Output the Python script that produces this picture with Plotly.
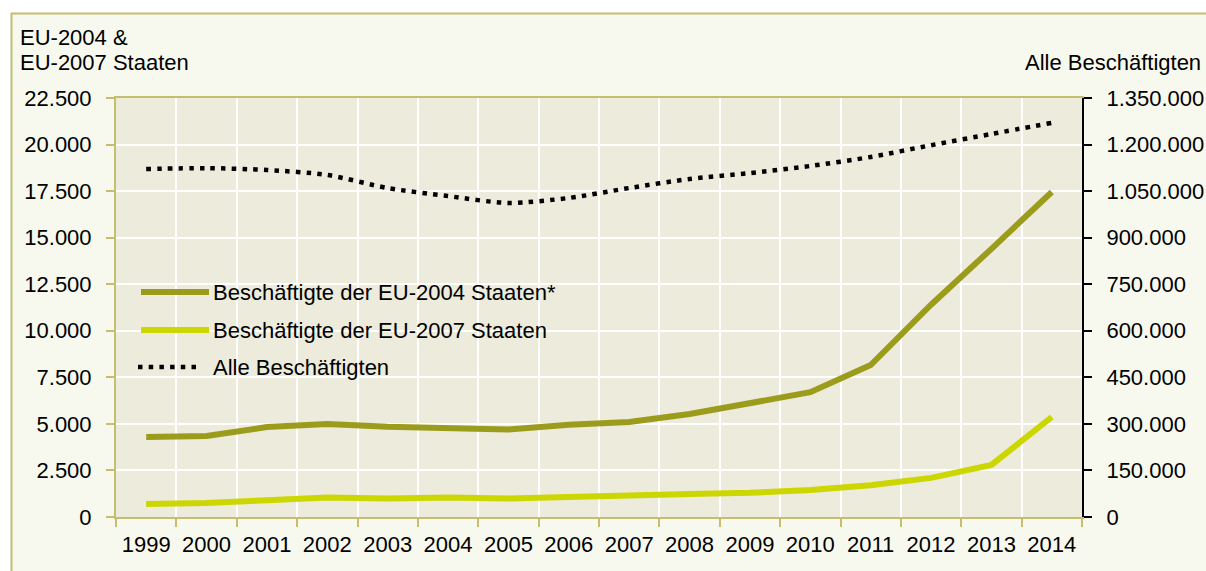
import plotly.graph_objects as go

years = ["1999", "2000", "2001", "2002", "2003", "2004", "2005", "2006",
         "2007", "2008", "2009", "2010", "2011", "2012", "2013", "2014"]
eu2004 = [4300, 4350, 4830, 5000, 4850, 4800, 4700, 4950,
          5100, 5530, 6100, 6700, 8160, 11400, 14400, 17450]
eu2007 = [700, 750, 900, 1050, 1000, 1050, 1000, 1100,
          1150, 1230, 1300, 1450, 1700, 2100, 2800, 5370]
alle = [1121000, 1124000, 1118000, 1102000, 1060000, 1034000, 1012000, 1028000,
        1060000, 1089000, 1108000, 1131000, 1160000, 1198000, 1234000, 1270000]

names = ["Beschäftigte der EU-2004 Staaten*", "Beschäftigte der EU-2007 Staaten",
         "Alle Beschäftigten"]
left_title = ["EU-2004 &", "EU-2007 Staaten"]
right_title = "Alle Beschäftigten"

C_DARK = "#9c9c1c"
C_LIGHT = "#ccd600"
C_OLIVE = "#c4be6e"
FONT = "Liberation Sans, Arial, sans-serif"
FS = 22

W, H = 1206, 571
L, R, T, B = 116, 1082, 98, 517


def px(x):
    return (x - L) / (R - L)


def py(y):
    return (B - y) / (B - T)


fig = go.Figure()
fig.add_trace(go.Scatter(x=years, y=eu2004, name=names[0], mode="lines",
                         line=dict(color=C_DARK, width=6), yaxis="y"))
fig.add_trace(go.Scatter(x=years, y=eu2007, name=names[1], mode="lines",
                         line=dict(color=C_LIGHT, width=6), yaxis="y"))
fig.add_trace(go.Scatter(x=years, y=alle, name=names[2], mode="lines",
                         line=dict(color="#000000", width=4.5, dash="4.5px,6.2px",
                                   shape="spline", smoothing=0.8),
                         yaxis="y2"))

shapes = [
    dict(type="rect", xref="paper", yref="paper", x0=px(-5), x1=px(1300),
         y0=py(12.5), y1=py(-5), fillcolor="white", line=dict(width=0), layer="below"),
    dict(type="rect", xref="paper", yref="paper", x0=px(-5), x1=px(10.5),
         y0=py(600), y1=py(-5), fillcolor="white", line=dict(width=0), layer="below"),
    dict(type="line", xref="paper", yref="paper", x0=px(11), x1=px(1300),
         y0=py(13.5), y1=py(13.5), line=dict(color=C_OLIVE, width=2)),
    dict(type="line", xref="paper", yref="paper", x0=px(11.5), x1=px(11.5),
         y0=py(13), y1=py(600), line=dict(color=C_OLIVE, width=2)),
]

leg_rows = [292, 330, 367]
shapes.append(dict(type="line", xref="paper", yref="paper", x0=px(141), x1=px(209),
                   y0=py(leg_rows[0]), y1=py(leg_rows[0]),
                   line=dict(color=C_DARK, width=6)))
shapes.append(dict(type="line", xref="paper", yref="paper", x0=px(141), x1=px(209),
                   y0=py(leg_rows[1]), y1=py(leg_rows[1]),
                   line=dict(color=C_LIGHT, width=6)))
shapes.append(dict(type="line", xref="paper", yref="paper", x0=px(138), x1=px(200),
                   y0=py(leg_rows[2]), y1=py(leg_rows[2]),
                   line=dict(color="#000000", width=4.5, dash="4.5px,6.2px")))

annotations = []
for name, row in zip(names, leg_rows):
    annotations.append(dict(text=name, xref="paper", yref="paper", x=px(211), y=py(row),
                            xanchor="left", yanchor="middle", showarrow=False,
                            font=dict(family=FONT, size=FS, color="#000000")))
annotations.append(dict(text=left_title[0], xref="paper", yref="paper", x=px(18), y=py(38),
                        xanchor="left", yanchor="middle", showarrow=False,
                        font=dict(family=FONT, size=FS, color="#000000")))
annotations.append(dict(text=left_title[1], xref="paper", yref="paper", x=px(18), y=py(62),
                        xanchor="left", yanchor="middle", showarrow=False,
                        font=dict(family=FONT, size=FS, color="#000000")))
annotations.append(dict(text=right_title, xref="paper", yref="paper", x=px(1203), y=py(62),
                        xanchor="right", yanchor="middle", showarrow=False,
                        font=dict(family=FONT, size=FS, color="#000000")))

fig.update_layout(
    width=W, height=H,
    margin=dict(l=L, r=W - R, t=T, b=H - B, pad=0, autoexpand=False),
    paper_bgcolor="#f8f9ee",
    plot_bgcolor="#edebdc",
    separators=",.",
    showlegend=False,
    font=dict(family=FONT, size=FS, color="#000000"),
    shapes=shapes,
    annotations=annotations,
    xaxis=dict(type="category", range=[-0.5, 15.5], autorange=False, automargin=False,
               tickson="boundaries", showgrid=True, gridcolor="white",
               gridwidth=2, showline=True, linecolor=C_OLIVE, linewidth=2, mirror=True,
               ticks="outside", ticklen=8, tickwidth=2, tickcolor=C_OLIVE,
               ticklabelstandoff=7, zeroline=False,
               tickfont=dict(family=FONT, size=FS, color="#000000")),
    yaxis=dict(range=[0, 22500], dtick=2500, tick0=0, tickformat=",d", automargin=False,
               showgrid=True, gridcolor="white", gridwidth=2, zeroline=False,
               showline=True, linecolor=C_OLIVE, linewidth=2,
               ticks="outside", ticklen=8, tickwidth=2, tickcolor=C_OLIVE,
               ticklabelstandoff=10,
               tickfont=dict(family=FONT, size=FS, color="#000000")),
    yaxis2=dict(range=[0, 1350000], dtick=150000, tick0=0, tickformat=",d",
                automargin=False,
                overlaying="y", side="right", showgrid=False, zeroline=False,
                showline=True, linecolor="#000000", linewidth=2,
                ticks="outside", ticklen=8, tickwidth=2, tickcolor="#000000",
                ticklabelstandoff=10,
                tickfont=dict(family=FONT, size=FS, color="#000000")),
)

fig.write_html("out.html", config={"displayModeBar": False},
               post_script="document.body.style.margin='0';")
